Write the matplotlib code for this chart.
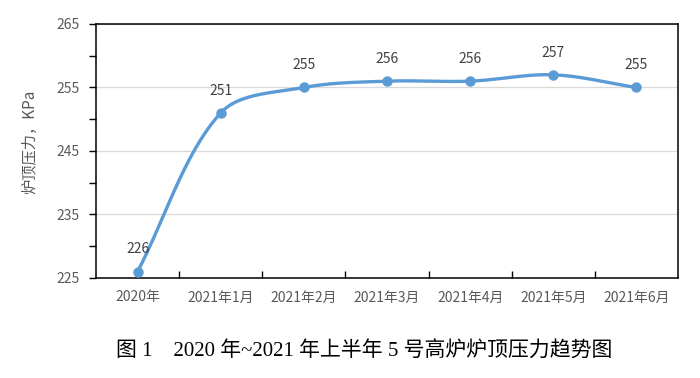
import numpy as np
import matplotlib
matplotlib.use("Agg")
import matplotlib.pyplot as plt
from matplotlib.ticker import FixedLocator

plt.rcParams['font.family'] = ['Noto Sans CJK SC', 'DejaVu Sans']

categories = ["2020年", "2021年1月", "2021年2月", "2021年3月", "2021年4月", "2021年5月", "2021年6月"]
values = [226, 251, 255, 256, 256, 257, 255]
y_label = "炉顶压力，KPa"
caption = "图 1    2020 年~2021 年上半年 5 号高炉炉顶压力趋势图"

LINE = "#5B9BD5"
TXT = "#595959"

W, H = 700, 378
L, R, T, B = 96, 678, 24, 278
fig = plt.figure(figsize=(W/100, H/100), dpi=100)
ax = fig.add_axes([L/W, 1-B/H, (R-L)/W, (B-T)/H])

x = np.arange(len(values), dtype=float)
y = np.array(values, dtype=float)
xlim = (-0.5, len(values)-0.5)
ylim = (225, 265)

# Excel-style smoothed rendering: Bezier through the data points,
# tangents weighted by chord lengths in screen space
def smooth(xp, yp, n=50):
    sxs = (R-L)/(xlim[1]-xlim[0])
    sys_ = (B-T)/(ylim[1]-ylim[0])
    P = np.column_stack([xp*sxs, yp*sys_])
    out = [P[0]]
    m = len(P)
    for i in range(m-1):
        p1, p2 = P[i], P[i+1]
        d12 = np.linalg.norm(p2-p1)
        if i > 0:
            p0 = P[i-1]; d01 = np.linalg.norm(p1-p0)
            c1 = p1 + (p2-p0) * d12/(d01+d12) / 3.0
        else:
            c1 = p1 + (p2-p1) / 3.0
        if i+2 < m:
            p3 = P[i+2]; d23 = np.linalg.norm(p3-p2)
            c2 = p2 - (p3-p1) * d12/(d12+d23) / 3.0
        else:
            c2 = p2 - (p2-p1) / 3.0
        t = np.linspace(0, 1, n)[1:, None]
        seg = ((1-t)**3)*p1 + 3*((1-t)**2)*t*c1 + 3*(1-t)*t**2*c2 + t**3*p2
        out.extend(seg)
    out = np.array(out)
    return out[:, 0]/sxs, out[:, 1]/sys_

sx, sy = smooth(x, y)
ax.plot(sx, sy, color=LINE, lw=2.4, solid_capstyle='round', zorder=3, clip_on=False)
ax.plot(x, y, 'o', color=LINE, ms=6.5, zorder=4, clip_on=False)

for xi, yi in zip(x, y):
    ax.annotate(f"{int(yi)}", (xi, yi), xytext=(0, 11), textcoords='offset points',
                ha='center', va='bottom', fontsize=10, color="#404040")

ax.set_xlim(*xlim)
ax.set_ylim(*ylim)
ax.yaxis.set_major_locator(FixedLocator([225, 235, 245, 255, 265]))
ax.yaxis.set_minor_locator(FixedLocator([230, 240, 250, 260]))
ax.grid(axis='y', which='major', color='#D9D9D9', lw=0.9, zorder=0)

ax.set_xticks(x)
ax.set_xticklabels(categories)
ax.set_xticks(np.arange(0.5, len(values)-1, 1.0), minor=True)
ax.tick_params(axis='x', which='major', length=0, pad=9, labelsize=10, labelcolor=TXT)
ax.tick_params(axis='x', which='minor', direction='in', length=5, width=1, color='black')
ax.tick_params(axis='y', which='both', direction='out', length=5, width=1, color='black',
               labelsize=10, labelcolor=TXT, pad=7)

for s in ax.spines.values():
    s.set_color('black')
    s.set_linewidth(1.1)

fig.text(30/W, 1-142/H, y_label, rotation=90, ha='center', va='center',
         fontsize=11, color=TXT)

fig.text(364/W, 1-352/H, caption, ha='center', va='center', fontsize=15,
         family=['Liberation Serif', 'Noto Sans CJK SC'], color='black')

fig.savefig("out.png", dpi=100)
